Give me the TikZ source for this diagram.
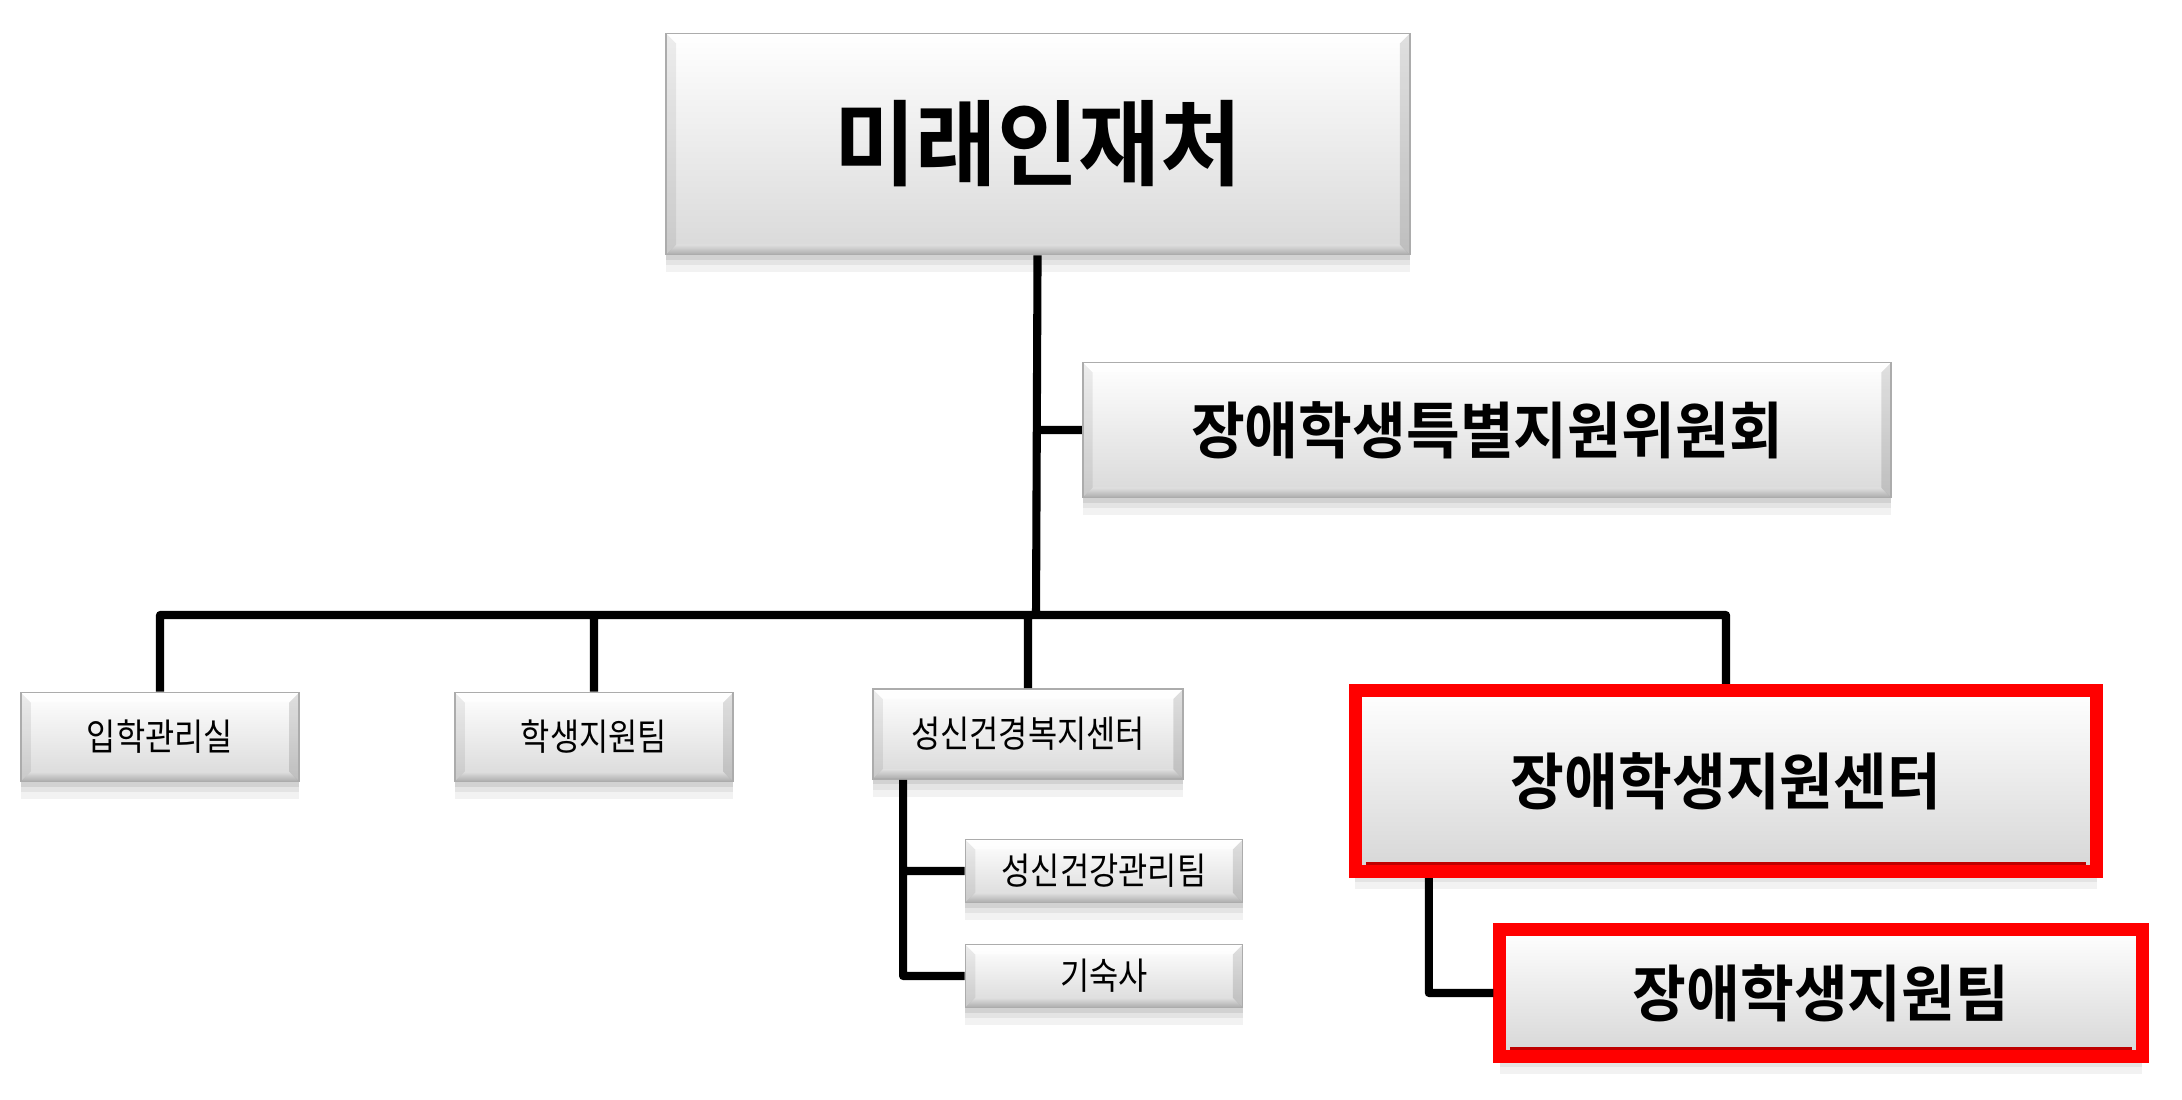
\documentclass[tikz,border=0pt]{standalone}
\usepackage{fontspec}
\newfontfamily\kor[FakeStretch=0.86]{Noto Sans CJK KR}
\newfontfamily\korb[FakeStretch=0.95]{Noto Sans CJK KR Bold}
\usetikzlibrary{calc}
\tikzset{
soft/.style={preaction={fill=black, opacity=.05, transform canvas={yshift=-5pt}},
  preaction={fill=black, opacity=.06, transform canvas={yshift=-3pt}},
  preaction={fill=black, opacity=.08, transform canvas={yshift=-1.5pt}}},
unit/.style={inner sep=0pt, font=\kor\fontsize{10.5}{12}\selectfont, draw=gray!65, line width=.5pt,
  soft, top color=white, bottom color=gray!30,
  path picture={
    \coordinate (sw) at (path picture bounding box.south west);
    \coordinate (se) at (path picture bounding box.south east);
    \coordinate (nw) at (path picture bounding box.north west);
    \coordinate (ne) at (path picture bounding box.north east);
    \shade[top color=black!12, bottom color=black!40, opacity=.7] (sw) -- ++(2.8pt,2.8pt) -- ([shift={(-2.8pt,2.8pt)}]se) -- (se) -- cycle;
    \fill[black,opacity=.07] (sw) -- ++(2.8pt,2.8pt) -- ([shift={(2.8pt,-2.8pt)}]nw) -- (nw) -- cycle;
    \fill[black,opacity=.12] (se) -- ++(-2.8pt,2.8pt) -- ([shift={(-2.8pt,-2.8pt)}]ne) -- (ne) -- cycle;
    \fill[white,opacity=.7] (nw) -- ++(2.8pt,-2.8pt) -- ([shift={(-2.8pt,-2.8pt)}]ne) -- (ne) -- cycle;
  }},
main/.style={unit, font=\korb\fontsize{17.5}{20}\selectfont},
key/.style={inner sep=0pt, font=\korb\fontsize{17.5}{20}\selectfont, draw=red, line width=3.7pt,
  soft, top color=white, bottom color=gray!32,
  path picture={
    \draw[red!75!black, line width=1pt] ([shift={(3pt,2.2pt)}]path picture bounding box.south west) -- ([shift={(-3pt,2.2pt)}]path picture bounding box.south east);
  }},
link/.style={line width=2.3pt, line join=round}
}
\begin{document}
\begin{tikzpicture}[x=0.01cm,y=-0.01cm]
\useasboundingbox (0,0) rectangle (2182,1099);
\node[main, font=\korb\fontsize{26.5}{30}\selectfont, minimum width=7.43cm, minimum height=2.21cm] (top) at (1038,144) {미래인재처};
\node[main, minimum width=8.08cm, minimum height=1.35cm] (com) at (1487,430) {장애학생특별지원위원회};
\node[unit, minimum width=2.78cm, minimum height=.89cm] (d1) at (160,737) {입학관리실};
\node[unit, minimum width=2.78cm, minimum height=.89cm] (d2) at (594,737) {학생지원팀};
\node[unit, minimum width=3.10cm, minimum height=.90cm] (d3) at (1028,734) {성신건경복지센터};
\node[unit, minimum width=2.77cm, minimum height=.63cm] (s1) at (1104,871) {성신건강관리팀};
\node[unit, minimum width=2.77cm, minimum height=.63cm] (s2) at (1104,976) {기숙사};
\node[key, minimum width=7.41cm, minimum height=1.81cm] (c1) at (1726,781) {장애학생지원센터};
\node[key, minimum width=6.42cm, minimum height=1.27cm] (t1) at (1821,993) {장애학생지원팀};
\coordinate (j0) at (1036,615);
\coordinate (k) at ([xshift=.31cm]d3.south west);
\coordinate (m) at ([xshift=.8cm]c1.south west);
\draw[link] (top) -- (j0) (com.west) -- (com.west -| j0)
(d1) |- (j0) -| (c1)
(d2) -- (d2 |- j0) (d3) -- (d3 |- j0)
(k) |- (s2) (s1) -- (s1 -| k)
(m) |- (t1);
\end{tikzpicture}
\end{document}
